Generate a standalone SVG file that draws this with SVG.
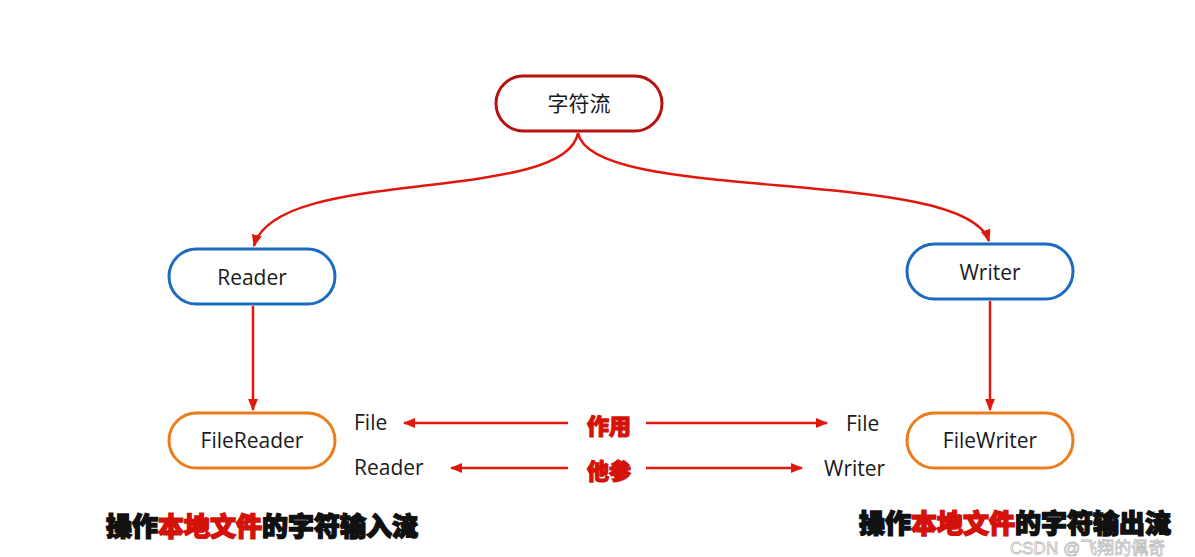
<svg xmlns="http://www.w3.org/2000/svg" width="1195" height="557" viewBox="0 0 1195 557">
<defs>
<marker id="ah" viewBox="0 0 10 10" refX="9" refY="5" markerWidth="5" markerHeight="5" orient="auto-start-reverse" markerUnits="strokeWidth">
<path d="M0,1 L10,5 L0,9 z" fill="#e0180c"/>
</marker>
<style>
.node{fill:#fff;stroke-width:3}
.root{stroke:#b5120e}
.blue{stroke:#1b6cc0}
.orange{stroke:#ec7d1c}
.lbl{font-family:"Open Sans","Noto Sans","Noto Sans CJK SC",sans-serif;font-size:21px;fill:#1a1a1a;text-anchor:middle;dominant-baseline:central}
.side{font-family:"Open Sans","Noto Sans",sans-serif;font-size:21px;fill:#1a1a1a;dominant-baseline:central}
.conn{fill:none;stroke:#e0180c;stroke-width:2.5;marker-end:url(#ah)}
.mid{font-family:"Noto Sans CJK SC",sans-serif;font-size:22px;font-weight:900;fill:#d4120a;stroke:#d4120a;stroke-width:1.2;text-anchor:middle;dominant-baseline:central}
.cap{font-family:"Noto Sans CJK SC",sans-serif;font-size:26px;font-weight:900;fill:#111;stroke:#111;stroke-width:1.5;dominant-baseline:central}
.red{fill:#d4120a;stroke:#d4120a}
.wm{font-family:"Liberation Sans","Noto Sans CJK SC",sans-serif;font-size:17px;fill:#fff;fill-opacity:0.6;stroke:#bdbdbd;stroke-width:0.8;dominant-baseline:central}
</style>
</defs>
<rect width="1195" height="557" fill="#fff"/>
<g id="connectors">
<path class="conn" d="M578,133 C565,205 275,165 254,246"/>
<path class="conn" d="M578,133 C592,205 965,165 989,241"/>
<path class="conn" d="M253,306 L253,410"/>
<path class="conn" d="M990,301 L990,410"/>
<path class="conn" d="M568,423 L404,423"/>
<path class="conn" d="M646,423 L827,423"/>
<path class="conn" d="M568,468 L451,468"/>
<path class="conn" d="M646,468 L802,468"/>
</g>
<g id="node-root"><rect class="node root" x="496" y="76" width="166" height="55" rx="27.5"/><text class="lbl" x="579" y="103">字符流</text></g>
<g id="node-reader"><rect class="node blue" x="169" y="249" width="166" height="55" rx="27.5"/><text class="lbl" x="252" y="277">Reader</text></g>
<g id="node-writer"><rect class="node blue" x="907" y="244" width="166" height="55" rx="27.5"/><text class="lbl" x="990" y="272">Writer</text></g>
<g id="node-filereader"><rect class="node orange" x="169" y="413" width="166" height="55" rx="27.5"/><text class="lbl" x="252" y="440">FileReader</text></g>
<g id="node-filewriter"><rect class="node orange" x="907" y="413" width="166" height="55" rx="27.5"/><text class="lbl" x="990" y="440">FileWriter</text></g>
<g id="labels">
<text class="side" x="354" y="422">File</text>
<text class="side" x="354" y="467">Reader</text>
<text class="side" x="846" y="423">File</text>
<text class="side" x="824" y="468">Writer</text>
<text class="mid" x="609" y="424">作用</text>
<text class="mid" x="609" y="469">他参</text>
<text class="cap" x="106" y="524">操作<tspan class="red">本地文件</tspan>的字符输入流</text>
<text class="cap" x="859" y="521">操作<tspan class="red">本地文件</tspan>的字符输出流</text>
<text class="wm" x="1010" y="548">CSDN @飞翔的佩奇</text>
</g>
</svg>
